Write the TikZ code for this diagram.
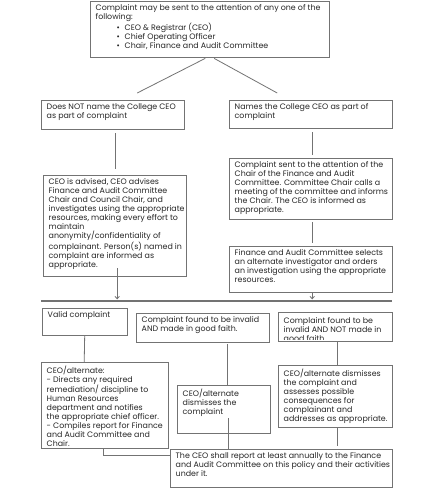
\documentclass[tikz,border=0pt]{standalone}
\usepackage{fontspec}
\setmainfont{Poppins}
\usetikzlibrary{arrows.meta}
\definecolor{linegray}{HTML}{737373}
\definecolor{txt}{HTML}{262626}
\tikzset{
  frame/.style={anchor=north west, inner xsep=5.5pt, inner ysep=0pt, draw=none},
  border/.style={draw=linegray, line width=0.8pt},
  label/.style={anchor=north west, inner sep=0pt, text=txt, font=\fontsize{7.9}{9}\selectfont, align=left},
  conn/.style={draw=linegray, line width=0.8pt},
  arr/.style={conn, -{Straight Barb[length=2.5pt,width=4.5pt]}},
}
% name, x1, y1, x2, y2, text ; optional text top offset
\newcommand\bxb[7][3.5]{%
  \node[frame, text width={(#5-#3-11)*1pt}, minimum height={(#6-#4)*1pt}] (#2) at (#3,#4) {};
  \draw[border] (#2.north west) rectangle (#2.south east);
  \node[label] (#2-t) at ([shift={(5.5,#1)}]#2.north west) {#7};}
\newcommand\bul[1]{\hspace*{21pt}\makebox[8pt][l]{\textbullet}#1}
\begin{document}
\begin{tikzpicture}[x=1pt,y=-1pt]
\useasboundingbox (0,0) rectangle (435,500);
\fill[white] (0,0) rectangle (435,500);
\bxb{top}{90}{1}{329}{57}{Complaint may be sent to the attention of any one of the\\following:\\\bul{CEO \& Registrar (CEO)}\\\bul{Chief Operating Officer}\\\bul{Chair, Finance and Audit Committee}}
\bxb{nn}{41}{100}{184}{129}{Does NOT name the College CEO\\as part of complaint}
\bxb{nm}{229}{100}{392}{128}{Names the College CEO as part of\\complaint}
\bxb{adv}{43}{175}{186}{276}{CEO is advised, CEO advises\\Finance and Audit Committee\\Chair and Council Chair, and\\investigates using the appropriate\\resources, making every effort to\\maintain\\anonymity/confidentiality of\\complainant. Person(s) named in\\complaint are informed as\\appropriate.}
\bxb{sent}{229}{158}{392}{219}{Complaint sent to the attention of the\\Chair of the Finance and Audit\\Committee. Committee Chair calls a\\meeting of the committee and informs\\the Chair. The CEO is informed as\\appropriate.}
\bxb{sel}{229}{246}{392}{292}{Finance and Audit Committee selects\\an alternate investigator and orders\\an investigation using the appropriate\\resources.}
\bxb{valid}{42}{308}{127}{335}{Valid complaint}
\bxb{gf}{136}{313}{269}{342}{Complaint found to be invalid\\AND made in good faith.}
\begin{scope}
\clip (278,312) rectangle (392,339.8);
\bxb[5.3]{ngf}{278}{312}{392}{341}{Complaint found to be\\invalid AND NOT made in\\good faith.}
\end{scope}
\draw[border] (ngf.north west) rectangle (ngf.south east);
\bxb{alt}{41}{362}{168}{448}{CEO/alternate:\\- Directs any required\\remediation/ discipline to\\Human Resources\\department and notifies\\the appropriate chief officer.\\- Compiles report for Finance\\and Audit Committee and\\Chair.}
\bxb{dis}{177}{385}{270}{433}{CEO/alternate\\dismisses the\\complaint}
\bxb{cons}{278}{365}{392}{427}{CEO/alternate dismisses\\the complaint and\\assesses possible\\consequences for\\complainant and\\addresses as appropriate.}
\bxb{rep}{170}{449}{392}{487}{The CEO shall report at least annually to the Finance\\and Audit Committee on this policy and their activities\\under it.}
\coordinate (hl) at (41,301);
\coordinate (hr) at (392,301);
\draw[conn] ([shift={(-4.5,1)}]top.south) -- ([shift={(24.5,-7)}]nn.north);
\draw[conn] ([shift={(4.5,1)}]top.south) -- ([shift={(-33.5,-7)}]nm.north);
\draw[conn] ([shift={(2.5,4)}]nn.south) -- ([shift={(0.5,-6)}]adv.north);
\draw[conn] ([shift={(1.5,4)}]nm.south) -- ([shift={(1.5,-3)}]sent.north);
\draw[conn] ([shift={(1.5,3)}]sent.south) -- ([shift={(1.5,-3)}]sel.north);
\draw[arr] ([shift={(2.5,-8)}]adv.south) -- ([shift={(2.5,23)}]adv.south);
\draw[arr] ([shift={(1.5,0)}]sel.south) -- ([shift={(1.5,7)}]sel.south);
\draw[draw=linegray, line width=1.3pt] (hl) -- (hr);
\draw[conn] (valid.south) -- ([shift={(-20.5,0)}]alt.north);
\draw[conn] ([shift={(24.5,2)}]gf.south) -- ([shift={(3.5,0)}]dis.north);
\draw[conn] ([shift={(2,0)}]ngf.south) -- ([shift={(2,0)}]cons.north);
\draw[conn] ([shift={(4.5,-15)}]dis.south) -- ([shift={(-53,0)}]rep.north);
\draw[conn] ([shift={(2,0)}]cons.south) -- ([shift={(2,19)}]cons.south);
\draw[conn] ([shift={(-1.5,0)}]alt.south) |- ([shift={(0,-13)}]rep.west);
\end{tikzpicture}
\end{document}
